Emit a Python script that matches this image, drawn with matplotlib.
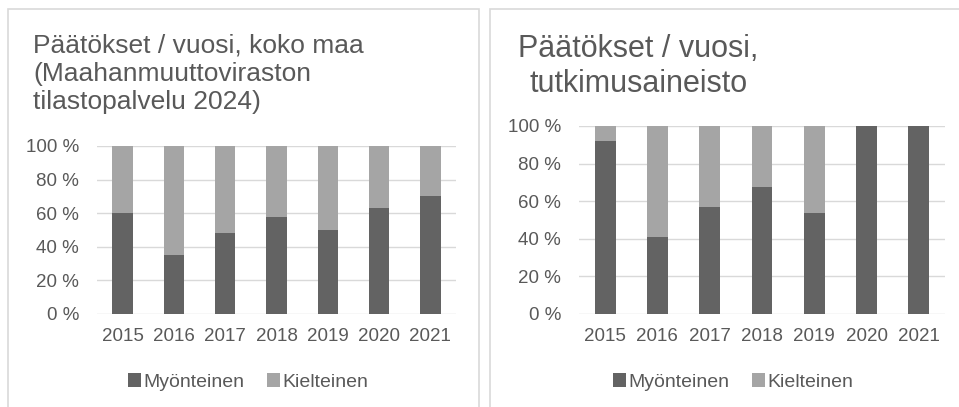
import matplotlib.pyplot as plt
from matplotlib.patches import Rectangle
from matplotlib.ticker import FuncFormatter
import numpy as np

plt.rcParams['font.family'] = ['Liberation Sans', 'DejaVu Sans']

years = ['2015', '2016', '2017', '2018', '2019', '2020', '2021']
# koko maa (Migri)
myont_koko = [60, 35, 48, 58, 50, 63, 70]
# tutkimusaineisto
myont_tutk = [92, 41, 57, 67.5, 53.5, 100, 100]

dark = '#636363'
light = '#a5a5a5'
txt = '#595959'
grid = '#d9d9d9'

W, H = 959, 407
fig = plt.figure(figsize=(W / 100, H / 100), dpi=100)


def px_axes(x0, x1, ytop, ybot):
    return fig.add_axes([x0 / W, (H - ybot) / H, (x1 - x0) / W, (ybot - ytop) / H])


def px_text(x, y, s, size):
    fig.text(x / W, 1 - y / H, s, fontsize=size, color=txt, va='baseline', ha='left')


# panel borders (pixel coords)
for x0, x1 in [(8, 479), (490, 962)]:
    fig.add_artist(Rectangle((x0 / W, -0.05), (x1 - x0) / W, (H - 9) / H + 0.05,
                             transform=fig.transFigure, fill=False,
                             edgecolor=grid, lw=1.2))


def draw(ax, vals, legend_x):
    ind = np.arange(len(years))
    pos = np.array(vals)
    neg = 100 - pos
    ax.bar(ind, pos, 0.4, color=dark, label='Myönteinen', zorder=3)
    ax.bar(ind, neg, 0.4, bottom=pos, color=light, label='Kielteinen', zorder=3)
    ax.set_xlim(-0.5, len(years) - 0.5)
    ax.set_ylim(0, 100)
    ax.set_yticks(range(0, 101, 20))
    ax.yaxis.set_major_formatter(FuncFormatter(lambda v, p: '%d %%' % v))
    ax.set_xticks(ind)
    ax.set_xticklabels(years)
    ax.grid(axis='y', color=grid, lw=1, zorder=0)
    for s in ax.spines.values():
        s.set_visible(False)
    ax.tick_params(length=0, labelsize=13.5, colors=txt)
    ax.tick_params(axis='y', pad=13)
    ax.tick_params(axis='x', pad=10)
    fig.legend(*ax.get_legend_handles_labels(), loc='center',
               bbox_to_anchor=(legend_x / W, 1 - 382 / H), ncol=2, frameon=False,
               fontsize=14, labelcolor=txt, handlelength=0.68, handleheight=0.68,
               handletextpad=0.12, columnspacing=1.15, borderpad=0)


ax1 = px_axes(97, 456, 146, 314)
draw(ax1, myont_koko, 248)
px_text(33, 52, 'Päätökset / vuosi, koko maa', 19)
px_text(33, 81, '(Maahanmuuttoviraston', 19)
px_text(33, 109, 'tilastopalvelu 2024)', 19)

ax2 = px_axes(579, 945, 126, 314)
draw(ax2, myont_tutk, 733)
px_text(518, 57, 'Päätökset / vuosi,', 22)
px_text(529, 92, 'tutkimusaineisto', 22)

fig.savefig('out.png', dpi=100)
